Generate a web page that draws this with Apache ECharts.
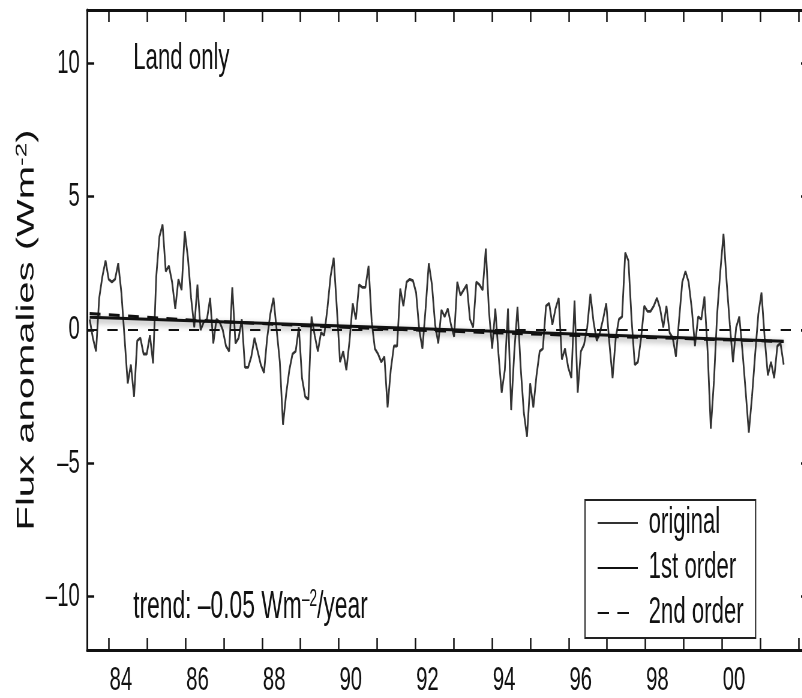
<!DOCTYPE html>
<html>
<head>
<meta charset="utf-8">
<title>Flux anomalies - land only</title>
<script src="https://cdn.jsdelivr.net/npm/echarts@6/dist/echarts.min.js"></script>
<style>
  html, body { margin: 0; padding: 0; background: #fff; overflow: hidden; }
  /* the figure is squeezed sideways, so draw it wide and squeeze it the same way */
  #fluxChart { width: 1350px; height: 698px; transform: scaleX(0.6); transform-origin: 0 0; }
</style>
</head>
<body>
<div id="fluxChart"></div>
<script>
  var fontFamily = "'Liberation Sans', Arial, Helvetica, sans-serif";

  // monthly samples, first one mid 1983
  var startYear = 83.5;
  var monthStep = (101.61 - 83.5) / 219;
  var original = [
    0.4, -0.3, -0.8, 1.2, 2.0, 2.6, 1.9, 1.8, 1.9, 2.5,
    1.4, -0.3, -2.0, -1.3, -2.5, -0.4, -0.3, -0.9, -0.9, -0.2,
    -1.25, 2.0, 3.5, 3.95, 2.2, 2.4, 1.8, 0.8, 1.9, 1.5,
    3.7, 2.7, 1.2, 0.1, 1.7, 0.0, 0.3, 0.4, 1.2, -0.5,
    0.4, 0.3, 0.0, -0.6, -0.8, 1.6, -0.5, -0.3, 0.4, -1.4,
    -1.4, -1.0, -0.3, -0.8, -1.3, -1.6, -0.3, 0.6, 1.2, 0.0,
    -1.2, -3.55, -2.4, -1.5, -0.9, -0.8, 0.1, -1.8, -2.5, -2.6,
    0.5, -0.2, -0.8, -0.1, -0.2, 0.8, 2.0, 2.7, 0.8, -1.2,
    -0.8, -1.5, -0.4, 1.0, 0.4, 1.7, 1.6, 1.6, 2.4, 0.3,
    -0.7, -0.9, -1.2, -1.0, -2.9, -1.5, -0.6, -0.6, 1.55, 0.9,
    1.8, 1.9, 1.85, 1.4, 0.0, -0.7, 0.8, 2.5, 1.7, 0.2,
    -0.5, 0.75, 0.5, 0.8, 0.2, -0.25, 1.8, 1.3, 1.5, 1.7,
    0.4, 0.1, 1.8, 1.7, 1.5, 3.05, 0.7, -0.7, 0.8, -0.9,
    -2.35, -1.5, 0.8, -3.0, -0.8, 0.87, -1.4, -3.1, -4.0, -2.0,
    -2.9, -1.7, -0.8, -0.7, 0.9, 1.0, 0.2, 0.8, 1.2, -1.1,
    -0.7, -1.4, -1.8, 1.1, -2.35, -0.8, -0.55, 0.1, 1.35, 0.3,
    -0.4, -0.1, 0.4, 1.0, -0.5, -1.8, -0.3, 0.4, 0.5, 2.9,
    2.6, 0.4, -1.3, -1.2, -0.3, 0.9, 0.7, 0.7, 0.9, 1.2,
    0.8, 0.1, 0.9, -0.1, -0.3, -1.0, 0.4, 1.8, 2.2, 1.8,
    0.8, -0.6, 0.5, 0.4, 1.25, -0.8, -3.7, -1.9, 0.6, 2.2,
    3.6, 1.8, 0.2, -1.2, 0.1, 0.5, -0.8, -2.3, -3.85, -2.5,
    -0.9, 0.6, 1.4, -0.3, -1.7, -1.2, -1.8, -0.6, -0.5, -1.3
  ];

  // fitted trends
  var firstOrderYears = [83.5, 101.61];
  var firstOrder = [0.48, -0.42];
  var secondOrderYears = [83.5, 86, 89, 92, 95, 98, 101.61];
  var secondOrder = [0.62, 0.38, 0.17, 0.0, -0.15, -0.28, -0.43];

  var yearTicks = [84, 85, 86, 87, 88, 89, 90, 91, 92, 93, 94, 95, 96, 97, 98, 99, 100, 101, 102];
  var yearLabels = [84, 86, 88, 90, 92, 94, 96, 98, 100];
  var fluxTicks = [-10, -5, 0, 5, 10];

  var originalData = original.map(function (v, i) { return [startYear + i * monthStep, v]; });
  var firstOrderData = firstOrderYears.map(function (x, i) { return [x, firstOrder[i]]; });
  var secondOrderData = secondOrderYears.map(function (x, i) { return [x, secondOrder[i]]; });

  var frameLine = { show: true, onZero: false, lineStyle: { color: '#111', width: 3 } };
  var inTick = function (values) {
    return { show: true, inside: true, length: 12, customValues: values, lineStyle: { color: '#111', width: 2.5 } };
  };

  var chart = echarts.init(document.getElementById('fluxChart'));
  chart.setOption({
    animation: false,
    backgroundColor: '#fff',
    title: [
      {
        text: 'Land only',
        left: 222, top: 40, padding: 0,
        textStyle: { fontFamily: fontFamily, fontSize: 37, fontWeight: 'normal', color: '#111', lineHeight: 37 }
      },
      {
        text: '{n|trend: \u20130.05 Wm}{s|\u20132}{n|/year}',
        left: 222, top: 588, padding: 0,
        textStyle: {
          fontWeight: 'normal',
          rich: {
            n: { fontFamily: fontFamily, fontSize: 38, fontWeight: 'normal', color: '#111', lineHeight: 40 },
            s: { fontFamily: fontFamily, fontSize: 23, fontWeight: 'normal', color: '#111', lineHeight: 22, verticalAlign: 'top' }
          }
        }
      }
    ],
    legend: {
      data: [
        'original',
        '1st order',
        // two dashes only, as in the printed key
        { name: '2nd order', lineStyle: { type: [19, 14, 19, 100] } }
      ],
      orient: 'vertical',
      left: 975, top: 500,
      itemWidth: 67, itemHeight: 14, itemGap: 3,
      padding: [2, 20, 4, 20],
      borderColor: '#222', borderWidth: 2,
      backgroundColor: '#fff',
      itemStyle: { opacity: 0 },
      textStyle: { fontFamily: fontFamily, fontSize: 37, color: '#111', lineHeight: 42, padding: [0, 0, 0, 13] }
    },
    grid: { left: 145, right: 3, top: 10, bottom: 46 },
    xAxis: [
      {
        type: 'value', min: 83.43, max: 102.25,
        axisLine: frameLine,
        axisTick: inTick(yearTicks),
        splitLine: { show: false },
        axisLabel: {
          customValues: yearLabels,
          margin: 14,
          padding: [0, 0, 0, 40],
          fontFamily: fontFamily, fontSize: 34, color: '#111',
          formatter: function (v) { return String(Math.round(v) % 100).padStart(2, '0'); }
        }
      },
      {
        type: 'value', position: 'top', min: 83.43, max: 102.25,
        axisLine: frameLine,
        axisTick: inTick(yearTicks),
        axisLabel: { show: false },
        splitLine: { show: false }
      }
    ],
    yAxis: [
      {
        type: 'value', min: -12, max: 12,
        name: '{n|Flux anomalies (Wm}{s|-2}{n|)}',
        nameLocation: 'middle', nameRotate: 90, nameGap: 74,
        nameTextStyle: {
          rich: {
            n: { fontFamily: fontFamily, fontSize: 40, color: '#111', lineHeight: 44 },
            s: { fontFamily: fontFamily, fontSize: 26, color: '#111', lineHeight: 26, verticalAlign: 'top' }
          }
        },
        axisLine: frameLine,
        axisTick: inTick(fluxTicks),
        splitLine: { show: false },
        axisLabel: {
          customValues: fluxTicks,
          margin: 12,
          fontFamily: fontFamily, fontSize: 34, color: '#111',
          formatter: function (v) { return String(v).replace('-', '\u2013'); }
        }
      },
      {
        type: 'value', position: 'right', min: -12, max: 12,
        axisLine: frameLine,
        axisTick: inTick(fluxTicks),
        axisLabel: { show: false },
        splitLine: { show: false }
      }
    ],
    series: [
      {
        name: 'original',
        type: 'line',
        data: originalData,
        symbol: 'none',
        lineStyle: { color: '#333', width: 2.8 },
        itemStyle: { color: '#333' },
        z: 2,
        markLine: {
          silent: true,
          symbol: 'none',
          label: { show: false },
          lineStyle: { color: '#111', width: 2, type: [17, 17] },
          data: [{ yAxis: 0 }]
        }
      },
      {
        name: '1st order',
        type: 'line',
        data: firstOrderData,
        symbol: 'none',
        lineStyle: { color: '#111', width: 3, shadowColor: 'rgba(0,0,0,0.45)', shadowBlur: 6, shadowOffsetY: 3 },
        itemStyle: { color: '#111' },
        z: 4
      },
      {
        name: '2nd order',
        type: 'line',
        data: secondOrderData,
        symbol: 'none',
        lineStyle: { color: '#111', width: 3, type: [18, 14] },
        itemStyle: { color: '#111' },
        z: 3
      }
    ]
  });
</script>
</body>
</html>
